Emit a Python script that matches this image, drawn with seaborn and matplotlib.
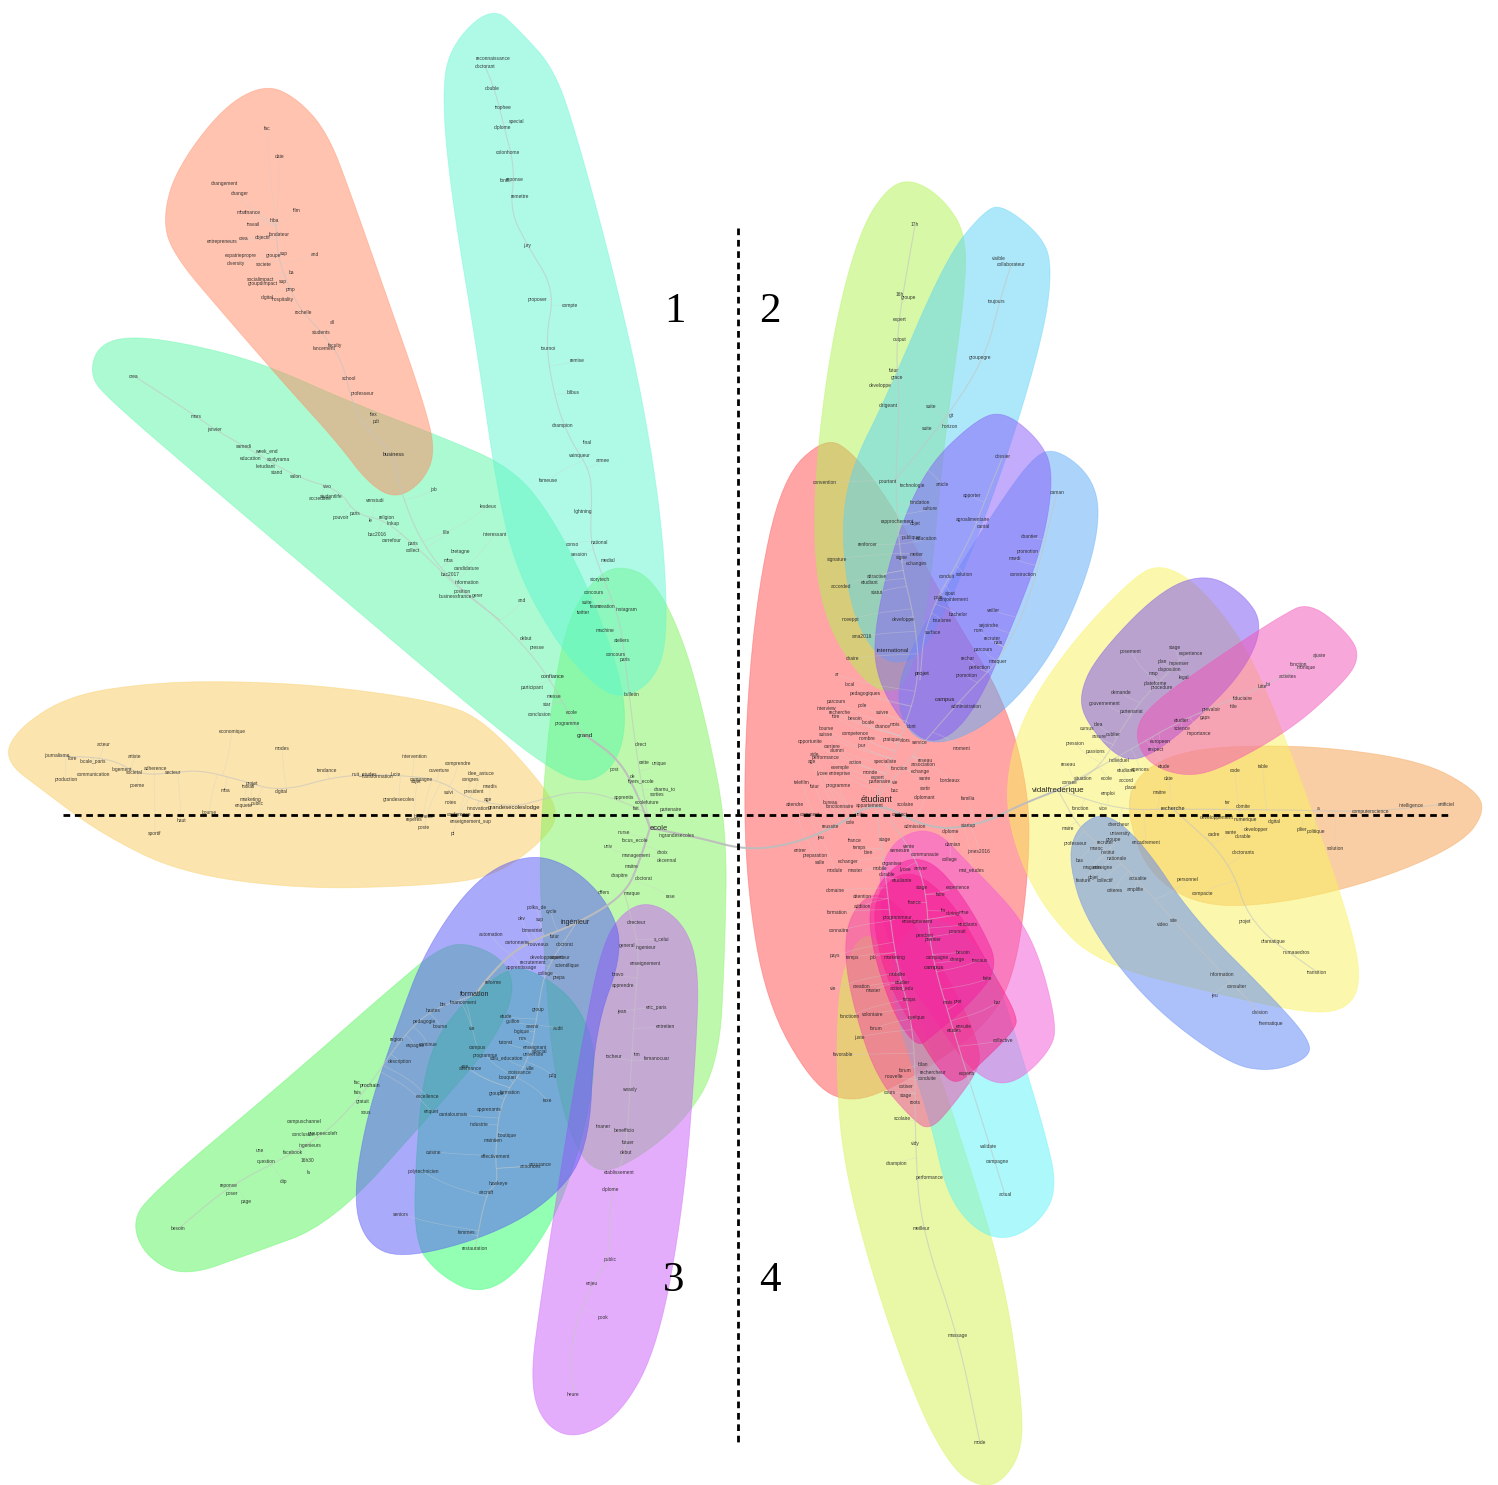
import numpy as np
import pandas as pd
import matplotlib
matplotlib.use("Agg")
import matplotlib.pyplot as plt
import seaborn as sns

# hull outlines in pixels
hull_orange_left = [(230,681),(330,686),(445,703),(485,722),(535,775),(562,815),(535,848),(490,878),(420,886),(300,889),(180,873),(100,833),(45,792),(3,760),(18,728),(70,695),(150,683)]
hull_lime_mid = [(620,565),(653,578),(684,640),(708,730),(727,830),(725,950),(719,1065),(682,1125),(620,1170),(590,1170),(568,1130),(552,1060),(544,950),(539,870),(544,780),(552,700),(567,620),(595,577)]
hull_mint = [(125,336),(180,342),(260,362),(350,402),(442,437),(513,468),(553,518),(593,598),(622,680),(626,732),(613,768),(585,784),(548,768),(478,713),(348,603),(218,493),(106,397),(90,375),(97,347)]
hull_turquoise = [(492,5),(522,33),(555,70),(578,140),(613,270),(643,400),(663,530),(668,642),(652,683),(620,699),(593,684),(557,643),(517,572),(497,490),(477,350),(452,200),(442,100),(449,47)]
hull_salmon = [(265,84),(297,98),(328,133),(353,200),(388,300),(423,400),(436,452),(422,483),(395,499),(368,483),(337,442),(288,388),(227,318),(171,252),(163,215),(177,168),(223,107)]
hull_green_low = [(465,942),(503,958),(516,990),(493,1043),(432,1113),(332,1224),(250,1254),(185,1277),(147,1258),(132,1225),(147,1197),(278,1087),(398,982),(438,949)]
hull_teal = [(535,971),(573,998),(594,1040),(594,1082),(579,1152),(553,1223),(512,1279),(475,1294),(437,1273),(414,1242),(416,1150),(426,1058),(457,1007),(508,967)]
hull_violet_low = [(650,901),(683,922),(699,965),(696,1052),(684,1202),(659,1343),(622,1414),(575,1440),(542,1423),(530,1380),(541,1298),(561,1168),(581,1048),(601,948),(622,912)]
hull_periwinkle = [(530,853),(573,867),(609,903),(624,950),(594,1032),(589,1152),(548,1204),(482,1239),(400,1259),(366,1243),(353,1200),(366,1118),(396,1028),(426,948),(477,877)]

hull_red = [(825,437),(853,452),(894,508),(954,618),(1004,698),(1029,790),(1029,872),(1014,982),(978,1034),(902,1084),(850,1104),(812,1084),(766,1002),(746,882),(744,750),(756,598),(782,478)]
hull_lime_top = [(912,179),(943,198),(967,235),(964,302),(944,442),(929,602),(908,684),(885,694),(857,674),(826,622),(813,550),(818,438),(836,318),(861,228),(888,187)]
hull_cyan_top = [(1002,204),(1044,238),(1052,270),(1044,332),(1009,452),(964,572),(928,644),(906,664),(878,659),(851,612),(841,530),(851,468),(886,398),(946,258),(983,212)]
hull_purple_top = [(1002,410),(1038,438),(1054,470),(1044,542),(1014,622),(974,714),(935,747),(902,724),(874,672),(876,618),(896,538),(926,468),(973,422)]
hull_blue_top = [(1055,448),(1089,473),(1101,510),(1089,572),(1054,653),(1003,714),(950,744),(912,739),(896,702),(906,658),(946,588),(997,507),(1033,457)]
hull_yellow_right = [(1160,562),(1203,588),(1254,658),(1304,788),(1349,918),(1362,980),(1348,1009),(1310,1014),(1218,994),(1098,964),(1046,912),(1016,852),(1004,790),(1021,718),(1067,648),(1128,582)]
hull_mauve_right = [(1205,573),(1243,593),(1264,625),(1243,673),(1192,724),(1146,759),(1118,759),(1086,722),(1079,695),(1096,657),(1158,592)]
hull_pink_right = [(1310,601),(1353,638),(1359,660),(1343,683),(1292,729),(1221,769),(1185,777),(1148,764),(1134,735),(1147,707),(1218,657),(1279,617)]
hull_orange_right = [(1220,746),(1320,746),(1422,761),(1473,788),(1486,810),(1463,843),(1382,879),(1281,904),(1200,907),(1147,873),(1126,810),(1136,777),(1168,756)]
hull_blue_right = [(1105,811),(1143,843),(1193,918),(1273,998),(1310,1040),(1309,1058),(1271,1072),(1228,1064),(1147,1003),(1086,922),(1068,860),(1077,827)]

hull_lime_low = [(868,926),(898,968),(934,1058),(964,1148),(1004,1278),(1022,1400),(1022,1452),(1002,1482),(980,1487),(952,1469),(916,1402),(871,1272),(841,1152),(836,1050),(841,968)]
hull_cyan_low = [(905,926),(943,916),(988,957),(1004,998),(1044,1128),(1058,1190),(1038,1224),(1005,1241),(973,1229),(946,1192),(931,1122),(886,986)]
hull_magenta_light = [(917,829),(942,835),(963,858),(990,885),(1020,918),(1041,961),(1057,1027),(1050,1050),(1025,1076),(1003,1085),(981,1077),(960,1056),(940,1026),(907,980),(883,928),(878,880),(890,845)]
hull_hot_up = [(910,858),(932,862),(956,887),(982,928),(999,967),(972,1002),(930,1038),(917,1047),(896,1019),(876,963),(868,917),(876,888),(893,868)]
hull_hot_low = [(898,874),(920,874),(955,905),(988,964),(1018,1016),(1014,1031),(977,1067),(957,1085),(941,1073),(913,1028),(886,978),(873,923),(878,892)]
hull_pink_low = [(873,891),(900,905),(933,952),(963,1006),(981,1051),(977,1072),(954,1104),(930,1131),(912,1119),(875,1076),(851,998),(844,947),(851,913)]

hulls = [
    (hull_orange_left, (249,203,93)), (hull_lime_mid, (125,243,91)), (hull_mint, (91,247,167)),
    (hull_turquoise, (95,247,209)), (hull_salmon, (255,137,97)), (hull_green_low, (87,245,93)),
    (hull_teal, (40,255,103)), (hull_violet_low, (203,93,249)), (hull_periwinkle, (87,87,249)),
    (hull_red, (255,77,77)), (hull_lime_low, (211,243,81)), (hull_cyan_low, (91,243,249)),
    (hull_lime_top, (177,243,81)), (hull_cyan_top, (91,211,247)), (hull_blue_top, (91,171,249)),
    (hull_purple_top, (135,90,249)), (hull_magenta_light, (243,85,215)), (hull_pink_low, (240,70,165)),
    (hull_hot_low, (250,30,130)), (hull_hot_up, (245,30,160)),
    (hull_orange_right, (245,159,75)), (hull_yellow_right, (249,243,93)), (hull_mauve_right, (120,80,240)),
    (hull_pink_right, (243,81,185)), (hull_blue_right, (91,133,245)),
]

# main branches of the word tree, the first three are the thick ones
trunk_hubs = [(650,828),(700,838),(745,850),(790,845),(840,825),(875,800),(930,830),(980,825),(1020,805),(1058,790)]
trunk_ecole_grand = [(650,828),(640,800),(620,760),(585,735)]
trunk_ecole_ing = [(650,828),(640,860),(625,895),(575,925),(520,945),(490,975),(475,995)]
trunk_grand = [(585,735),(575,725),(545,670),(500,620),(450,580),(420,540),(400,490),(394,454),(362,425),(350,395),(342,360),(320,330),(303,313),(290,290),(278,258),(276,225)]
trunk_mint = [(500,620),(460,590),(430,560),(413,544),(385,520),(355,514),(340,490),(296,477),(244,446),(214,429),(196,416),(134,376)]
trunk_turq = [(650,828),(637,760),(625,659),(620,620),(600,570),(590,540),(592,500),(590,470),(570,440),(555,400),(545,340),(555,290),(527,245),(510,210),(515,170),(505,130),(495,90),(485,66)]
trunk_left = [(650,815),(620,800),(580,790),(540,800),(514,807),(470,800),(440,780),(400,775),(340,775),(281,792),(240,780),(200,770),(173,773),(140,775),(110,758),(57,756)]
trunk_form = [(475,995),(430,1010),(400,1040),(370,1085),(330,1130),(290,1155),(229,1186),(178,1229)]
trunk_ing2 = [(575,925),(545,970),(538,1009),(530,1060),(500,1100),(495,1157),(498,1183),(486,1193),(475,1249)]
trunk_violet = [(625,895),(640,950),(635,1000),(630,1089),(626,1153),(610,1190),(610,1260),(592,1283),(570,1340),(573,1395)]
trunk_top = [(875,800),(900,740),(920,680),(915,620),(900,560),(895,480),(900,400),(895,340),(915,225)]
trunk_top2 = [(920,680),(925,620),(970,540),(985,500),(1003,456)]
trunk_top3 = [(895,480),(945,420),(985,358),(1000,300),(1011,265)]
trunk_top4 = [(875,800),(960,700),(1000,660),(1030,600),(1057,493)]
trunk_low = [(875,800),(905,840),(925,880),(930,950),(950,1020),(990,1146),(1005,1195)]
trunk_low2 = [(875,800),(885,870),(895,960),(915,1030),(915,1143),(921,1228),(958,1335),(980,1443)]
trunk_right1 = [(1058,790),(1100,770),(1130,712),(1180,660)]
trunk_right2 = [(1058,790),(1120,810),(1173,809),(1290,810),(1371,812),(1446,804)]
trunk_right3 = [(1058,790),(1080,830),(1120,860),(1200,950),(1271,1024)]
trunk_right4 = [(1173,809),(1230,860),(1250,925),(1317,972)]
trunk_right5 = [(1058,790),(1130,750),(1181,720),(1268,685),(1319,656)]
thick_trunks = [trunk_hubs, trunk_ecole_grand, trunk_ecole_ing]
thin_trunks = [trunk_grand, trunk_mint, trunk_turq, trunk_left, trunk_form, trunk_ing2, trunk_violet, trunk_top,
               trunk_top2, trunk_top3, trunk_top4, trunk_low, trunk_low2, trunk_right1, trunk_right2, trunk_right3, trunk_right4, trunk_right5]

words_left = [("economique",232,732),("modes",282,748),("acteur",104,745),("artiste",135,756),("journalisme",57,756),("libre",72,759),("locale_paris",93,761),
    ("communication",93,775),("production",66,780),("poeme",137,785),("logement",122,769),("societal",134,772),("adherence",155,769),("secteur",173,773),
    ("digital",281,792),("projet",252,783),("travail",249,787),("mba",225,791),("marketing",251,799),("enquete",244,805),("public",257,803),("bourse",209,812),
    ("haut",181,821),("sportif",155,833),("tendance",327,771),("nuit_etudes",364,774),("transformation",378,777),("lucie",396,775),("intervention",414,757),
    ("comprendre",458,764),("ouverture",439,771),("idee_astuce",481,773),("congres",471,779),("campagne",421,780),("sujet",416,782),("mardis",490,787),
    ("president",474,791),("suivi",449,793),("age",488,800),("grandesecoles",399,799),("notes",451,803),("innovation",478,808),("reperes",414,819),
    ("business",423,816),("conference",459,815),("enseignement_sup",471,822),("poste",424,827),("pt",453,833)]
words_mid = [("direct",641,745),("cette",644,762),("unique",659,764),("post",614,769),("flyers_ecole",641,782),("de",632,776),("charnu_to",665,789),("sorties",657,795),
    ("apprentis",624,798),("ecolefuture",647,802),("fait",636,808),("partenaire",671,809),("ingrandesecoles",677,835),("nurse",624,832),("focus_ecole",635,840),
    ("univ",608,847),("management",636,855),("choix",663,853),("decennal",667,861),("maitre",632,867),("chapitre",620,876),("doctorat",644,878),("offers",604,893),
    ("marque",632,894),("rase",670,897),("bulletin",632,695),("debut",526,639),("presse",537,648),("participant",532,688),("messe",554,696),("star",547,705),
    ("conclusion",540,714),("ecole",572,713),("programme",567,723)]
words_mint = [("crea",134,376),("mars",196,416),("janvier",214,429),("samedi",244,446),("week_end",266,451),("education",251,458),("studyrama",278,459),("l'etudiant",265,466),
    ("stand",277,472),("salon",296,477),("vivo",327,487),("studentlife",331,496),("accreditee",320,499),("venstudi",375,501),("job",433,490),("lesdeux",488,506),
    ("interessant",495,534),("paris",355,514),("pouvoir",341,517),("religion",387,517),("linkup",393,523),("le",371,521),("bac2016",377,535),("carrefour",392,541),
    ("paris",413,544),("collect",413,550),("lille",446,533),("bretagne",460,552),("mba",448,561),("bac2017",450,574),("candidature",467,569),("information",467,583),
    ("position",462,591),("businessfrance",455,597),("gerer",478,596),("and",522,601)]
words_salmon = [("fac",267,129),("date",280,157),("changement",224,183),("changer",240,193),("film",297,211),("mba",241,212),("finance",253,213),("hiba",274,221),
    ("travail",254,225),("objectif",263,237),("fondateur",279,235),("crea",244,239),("entrepreneurs",222,241),("expatriepropre",241,256),("groupe",273,256),("sup",284,254),
    ("and",315,254),("diversity",236,264),("societe",264,265),("ba",291,273),("socialimpact",261,279),("groupdimpact",263,283),("sup",283,282),("pmp",290,290),
    ("digital",267,298),("hospitality",283,299),("rochelle",303,313),("students",321,332),("all",332,323),("faculty",335,345),("lancement",324,348),("school",349,378),
    ("professeur",362,393),("flex",374,414),("pdt",376,422)]
words_turq = [("reconnaissance",493,59),("doctorant",485,66),("double",492,88),("trophee",503,107),("special",517,121),("diplome",502,128),("colonhome",508,152),
    ("fond",505,181),("reponse",515,180),("remettre",520,197),("jury",527,245),("proposer",537,300),("compte",570,305),("tournoi",548,348),("remise",577,360),
    ("bilbus",573,393),("champion",562,426),("final",588,443),("vainqueur",580,455),("armee",603,460),("fameuse",548,481),("lightning",583,511),("national",599,542),
    ("conso",572,544),("session",579,555),("medial",608,561),("storytech",600,580),("concours",594,592),("suite",587,602),("team",595,606),("creation",607,607),
    ("instagram",626,609),("twitter",583,612),("machine",605,631),("ateliers",622,641),("concours",616,654),("paris",625,659)]
words_low = [("polka_de",537,907),("cycle",551,912),("dev",522,919),("sup",540,920),("bimestriel",532,930),("automation",491,935),("futur",555,937),("doctorat",565,944),
    ("cartonnerie",517,942),("nouveaux",538,945),("developpement",547,957),("superieur",560,958),("recrutement",533,962),("scientifique",567,965),("apprentissage",521,968),
    ("college",546,973),("prepa",559,977),("reforme",493,982),("financement",463,1003),("bts",443,1005),("hautes",433,1010),("pedagogie",424,1021),("bourse",440,1026),
    ("region",397,1040),("espagne",415,1046),("continue",428,1044),("description",400,1062),("fac",357,1083),("fais",358,1093),("gratuit",363,1101),
    ("sous",366,1113),("group",538,1009),("vie",472,1028),("etude",506,1017),("guillon",513,1022),("avenir",532,1027),("nos",523,1039),("logique",522,1031),("audit",558,1028),
    ("tutorat",506,1043),("campus",477,1047),("programme",485,1055),("cdiu_education",506,1058),("enseignant",535,1047),("special",540,1052),("universite",533,1055),
    ("alternance",470,1069),("rue",465,1067),("ville",530,1068),("croissance",520,1072),("bouquet",508,1077),("pdg",553,1076),("excellence",427,1096),("groupe",496,1094),
    ("formation",510,1093),("taxe",548,1101),("apprenants",489,1109),("enquet",431,1111),("cantaloumais",453,1114),("industrie",479,1124),("boutique",507,1135),
    ("maintien",493,1141),("cuisine",434,1152),("effectivement",495,1157),("annonces",530,1166),("assurance",540,1164),("polytechnicien",423,1172),("hawkeye",498,1183),
    ("aircraft",486,1193),("seniors",401,1214),("femmes",467,1232),("restauration",475,1249)]
words_violet = [("directeur",636,923),("s_celui",662,939),("general",627,946),("ingenieur",646,948),("enseignement",645,963),("bravo",618,975),("apprendre",623,985),
    ("jean",622,1012),("eric_paris",657,1007),("entretien",665,1027),("tim",637,1054),("tocheur",614,1057),("femanocuar",657,1059),("swaxly",630,1089),("tinaner",603,1127),
    ("benefficio",624,1131),("futuer",628,1143),("debut",626,1153),("etablissement",619,1173),("diplome",610,1190),("public",610,1260),("enjeu",592,1283),("pook",603,1318),("heure",573,1395)]
words_green = [("campuschannel",304,1122),("groupeecolefr",323,1133),("conclusion",303,1135),("ingenieurs",310,1146),("facebook",293,1152),("une",260,1150),("question",266,1162),
    ("16h30",307,1160),("la",309,1173),("clip",283,1182),("reponse",229,1186),("poser",232,1193),("page",246,1201),("besoin",178,1229)]
words_red = [("chaire",852,658),("ar",837,675),("local",850,685),("pedagogiques",865,694),("parcours",836,701),("pole",862,705),("interview",826,708),("recherche",840,713),
    ("suivre",882,712),("titre",836,717),("locale",868,722),("besoin",855,718),("bourse",826,729),("chance",883,727),("mois",895,725),("dont",912,727),("suisse",826,735),
    ("competence",855,733),("nombre",867,739),("opportunite",810,741),("carriere",832,746),("jour",861,745),("pratique",892,739),("alors",905,740),("service",920,742),
    ("aide",814,754),("performance",826,757),("alumni",837,751),("age",812,761),("action",855,762),("specialiste",885,762),("reseau",925,760),("moment",962,749),
    ("fonction",900,768),("association",923,764),("exemple",840,768),("entreprise",840,773),("lycee",822,773),("echange",920,771),("monde",870,773),("expert",878,777),
    ("vie",895,782),("sante",925,779),("partenaire",880,782),("bordeaux",950,780),("telefilm",802,783),("futur",815,786),("programme",838,786),("sortir",925,788),
    ("bac",895,790),("diplomant",925,798),("familia",968,798),("attendre",795,804),("bureau",830,802),("fonctionnaire",840,807),("appartement",870,805),("scolaire",905,805),
    ("comment",810,815),("unite",860,815),("contact",900,815),("reussite",830,826),("cole",850,822),("admission",915,826),("startup",968,825),("diplome",950,831),
    ("france",855,840),("stage",885,840),("jeu",820,838),("temps",860,848),("semestre",900,851),("bien",868,853),("vente",909,846),("damian",953,845),("jones2016",979,851),
    ("communaute",925,855),("entrer",800,850),("preparation",815,855),("salle",820,862),("echanger",848,862),("college",950,859),("module",835,871),("master",855,871),
    ("mobile",880,868),("organiser",892,863),("mat_etudes",972,870),("lycee",905,869),("domaine",835,890),("durable",887,874)]
words_pink = [("arriver",921,869),("etudiante",902,880),("stage",922,887),("experience",958,887),("faire",941,894),("attention",862,897),("france",915,903),("addition",862,906),
    ("fin",944,911),("during",953,914),("mise",964,913),("formation",837,912),("programmeur",897,917),("enseignement",917,922),("etudiants",968,924),("poursuit",957,932),
    ("premier",933,939),("pendant",925,935),("connaitre",839,931),("besoin",963,952),("travaux",980,960),("pays",835,956),("temps",853,957),("job",872,957),("marketing",895,958),
    ("campagne",937,957),("charge",957,960),("mobilite",897,974),("etudier",902,983),("action_edu",902,988),("faite",988,979),("creation",862,987),("master",873,990),("vie",833,989),
    ("temps",910,999),("bar",997,1003),("mais",948,1003),("pret",958,1002),("quelque",917,1018),("volontaire",873,1014),("forum",876,1028),("fonctionn",850,1016),("juste",859,1037),
    ("favorable",843,1055),("ensuite",964,1026),("etudes",954,1031),("collective",1003,1040),("forum",905,1070),("bilan",923,1064),("rechercheur",933,1073),("conduite",927,1078),
    ("nouvelle",894,1077),("experts",967,1073),("cotiser",906,1087),("cours",890,1092),("stage",906,1095),("roots",915,1103),("scolaire",902,1119),("vidy",915,1143),("validate",989,1146),
    ("campagne",997,1161),("actual",1005,1195),("champion",897,1164),("performance",930,1177),("meilleur",921,1228),("massage",958,1335),("mode",980,1443)]
words_top = [("convention",825,483),("signature",837,559),("accorded",841,586),("nceeppt",850,619),("sma2016",862,636),("renforcer",867,545),("attractive",877,576),("etudiant",870,583),
    ("statut",877,593),("developpe",903,620),("rapprochement",897,522),("objet",915,523),("publique",911,538),("education",927,539),("signe",902,558),("metier",917,555),
    ("echanges",916,563),("conduit",947,577),("solution",964,575),("ajout",950,593),("pole",938,597),("conjointement",953,600),("bachelor",958,615),("tourisme",942,621),
    ("surface",933,633),("veiller",993,610),("sejoindre",989,625),("nom",978,630),("recruter",992,638),("nais",998,643),("parcours",983,649),("rechar",968,659),("marquer",998,661),
    ("perfection",980,668),("promotion",967,676),("administration",966,706),("pourtant",888,482),("technologie",913,486),("article",942,484),("fondation",920,502),("culture",930,509),
    ("apporter",972,496),("agroalimentaire",973,520),("cantal",983,527),("dossier",1003,456),("caman",1057,493),("chantier",1030,537),("promotion",1028,552),("mardi",1015,559),
    ("construction",1023,575),("horizon",950,426),("git",951,416),("suite",927,428),("dirigeant",888,406),("17h",915,225),("visible",999,258),("collaborateur",1011,265),
    ("toujours",997,301),("16h",900,295),("groupe",908,298),("expert",900,320),("output",900,340),("groupegre",980,358),("futur",894,370),("grace",897,378),("developpe",880,385),
    ("suite",931,407)]
words_right = [("posement",1131,652),("stage",1175,648),("experience",1191,653),("plan",1162,662),("impenser",1179,664),("disposition",1170,669),("map",1153,673),("legal",1184,677),
    ("plateforme",1155,683),("procedure",1162,687),("demande",1121,692),("gouvernement",1105,703),("partenariat",1131,712),("idea",1098,724),("cursus",1087,729),("oublier",1113,734),
    ("assure",1099,737),("pression",1075,743),("passions",1095,751),("respect",1156,750),("ajuste",1319,656),("fonction",1299,664),("monique",1306,667),
    ("activites",1288,676),("loi",1268,685),("lutte",1262,686),("fiduciaire",1243,698),("title",1234,706),("prevaloir",1211,710),("gaps",1205,717),("etudier",1181,720),("science",1182,729),
    ("importance",1199,734),("europeen",1160,741),("individuel",1119,760),("etudiant",1126,771),("agences",1140,770),("etude",1164,767),("date",1169,778),("maitre",1160,792),
    ("accord",1126,781),("ecole",1107,778),("situation",1083,778),("place",1131,787),("emploi",1108,793),("conseil",1070,782),("fonction",1081,809),("vice",1103,809),("reseau",1068,764),
    ("code",1235,770),("table",1263,767),("ter",1228,803),("domite",1243,806),("a",1318,809),("intelligence",1411,806),("artificiel",1446,804),("computerscience",1371,812),
    ("developpement",1217,818),("numerique",1245,820),("digital",1274,822),("developper",1256,829),("pilier",1302,829),("politique",1316,831),("cadre",1214,835),("sante",1231,832),
    ("durable",1243,837),("solution",1335,848),("doctorants",1243,852),("maire",1068,828),("chercheur",1119,825),("university",1120,834),("groupe",1113,840),("encadrement",1146,842),
    ("recruter",1105,842),("professeur",1075,844),("maroc",1097,848),("bas",1080,860),("institut",1108,853),("nationale",1117,858),("magasin",1092,867),("enseigne",1103,867),
    ("objet",1093,877),("feature",1084,881),("collectif",1105,881),("criteres",1115,890),("amplifie",1135,889),("actualite",1138,879),("personnel",1188,880),("compacte",1203,893),
    ("video",1163,925),("site",1174,921),("projet",1245,921),("dramatique",1273,942),("numaaedros",1296,953),("transition",1317,972),("information",1222,974),("consulter",1237,987),
    ("jeu",1214,995),("division",1260,1013),("thematique",1271,1024)]
small_words = (words_left + words_mid + words_mint + words_salmon + words_turq + words_low + words_violet
               + words_green + words_red + words_pink + words_top + words_right)

# the hubs, printed larger
big_words = [("étudiant",877,799,6.4),("vidalfrederique",1058,790,5.8),("ecole",659,828,5.4),("grand",585,735,4.6),("ingénieur",575,922,5.0),("formation",475,995,5.0),
    ("recherche",1173,809,4.0),("projet",922,673,4.2),("international",893,651,4.2),("business",394,454,4.0),("campus",934,967,4.2),("campus",945,699,4.2),("confiance",553,676,4.0),
    ("grandesecoleslodge",514,807,4.2),("prochain",370,1086,3.8)]

quadrant_labels = [("1",675,312),("2",770,312),("3",674,1281),("4",770,1281)]


def chaikin(points, rounds=3, closed=True):
    pts = np.asarray(points, dtype=float)
    for _ in range(rounds):
        nxt = np.roll(pts, -1, axis=0) if closed else pts[1:]
        cur = pts if closed else pts[:-1]
        q = 0.75 * cur + 0.25 * nxt
        r = 0.25 * cur + 0.75 * nxt
        mid = np.empty((2 * len(cur), 2))
        mid[0::2] = q
        mid[1::2] = r
        if not closed:
            mid = np.vstack([pts[0], mid, pts[-1]])
        pts = mid
    return pts


def edges_frame(lines):
    rows = []
    for i, line in enumerate(lines):
        for x, y in chaikin(line, closed=False):
            rows.append((i, x, y))
    return pd.DataFrame(rows, columns=["branch", "x", "y"])


def twigs():
    # every word hangs from the nearest point of a trunk
    trunk_pts = np.vstack([chaikin(t, closed=False) for t in thick_trunks + thin_trunks])
    out = []
    for _, x, y in small_words:
        d = np.hypot(trunk_pts[:, 0] - x, trunk_pts[:, 1] - y)
        tx, ty = trunk_pts[d.argmin()]
        out.append([(x, y), (0.6 * x + 0.4 * tx, 0.45 * y + 0.55 * ty), (tx, ty)])
    return out


sns.set_theme(style="white")
plt.rcParams["font.family"] = ["Liberation Sans", "DejaVu Sans"]

fig, ax = plt.subplots(figsize=(14.98, 14.85), dpi=100)
fig.subplots_adjust(0, 0, 1, 1)

for outline, rgb in hulls:
    xy = chaikin(outline)
    col = np.array(rgb) / 255
    ax.fill(xy[:, 0], xy[:, 1], facecolor=(*col, 0.5), edgecolor=(*col, 0.4), linewidth=0.6, zorder=2)

sns.lineplot(data=edges_frame(twigs()), x="x", y="y", units="branch", estimator=None, sort=False,
             color="#d0d0d0", alpha=0.4, linewidth=0.5, legend=False, ax=ax, zorder=3)
sns.lineplot(data=edges_frame(thin_trunks), x="x", y="y", units="branch", estimator=None, sort=False,
             color="#c4c4c4", alpha=0.6, linewidth=0.8, legend=False, ax=ax, zorder=4)
sns.lineplot(data=edges_frame(thick_trunks), x="x", y="y", units="branch", estimator=None, sort=False,
             color="#bdbdbd", alpha=0.95, linewidth=1.5, legend=False, ax=ax, zorder=4)

for word, x, y in small_words:
    ax.text(x, y, word, fontsize=3.5, color="#1c1c1c", alpha=0.85, ha="center", va="center", zorder=5)
for word, x, y, size in big_words:
    ax.text(x, y, word, fontsize=size, color="#1c1c1c", alpha=0.95, ha="center", va="center", zorder=5)

ax.plot([63, 1450], [815, 815], color="black", linewidth=2, linestyle=(0, (2.4, 1.7)), zorder=6)
ax.plot([738, 738], [228, 1445], color="black", linewidth=2, linestyle=(0, (2.4, 1.7)), zorder=6)

for label, x, y in quadrant_labels:
    ax.text(x, y, label, fontsize=31, family="Liberation Serif", color="black", ha="center", va="center", zorder=7)

ax.set_xlim(0, 1498)
ax.set_ylim(1485, 0)
ax.axis("off")
fig.savefig("out.png", dpi=100, facecolor="white")
